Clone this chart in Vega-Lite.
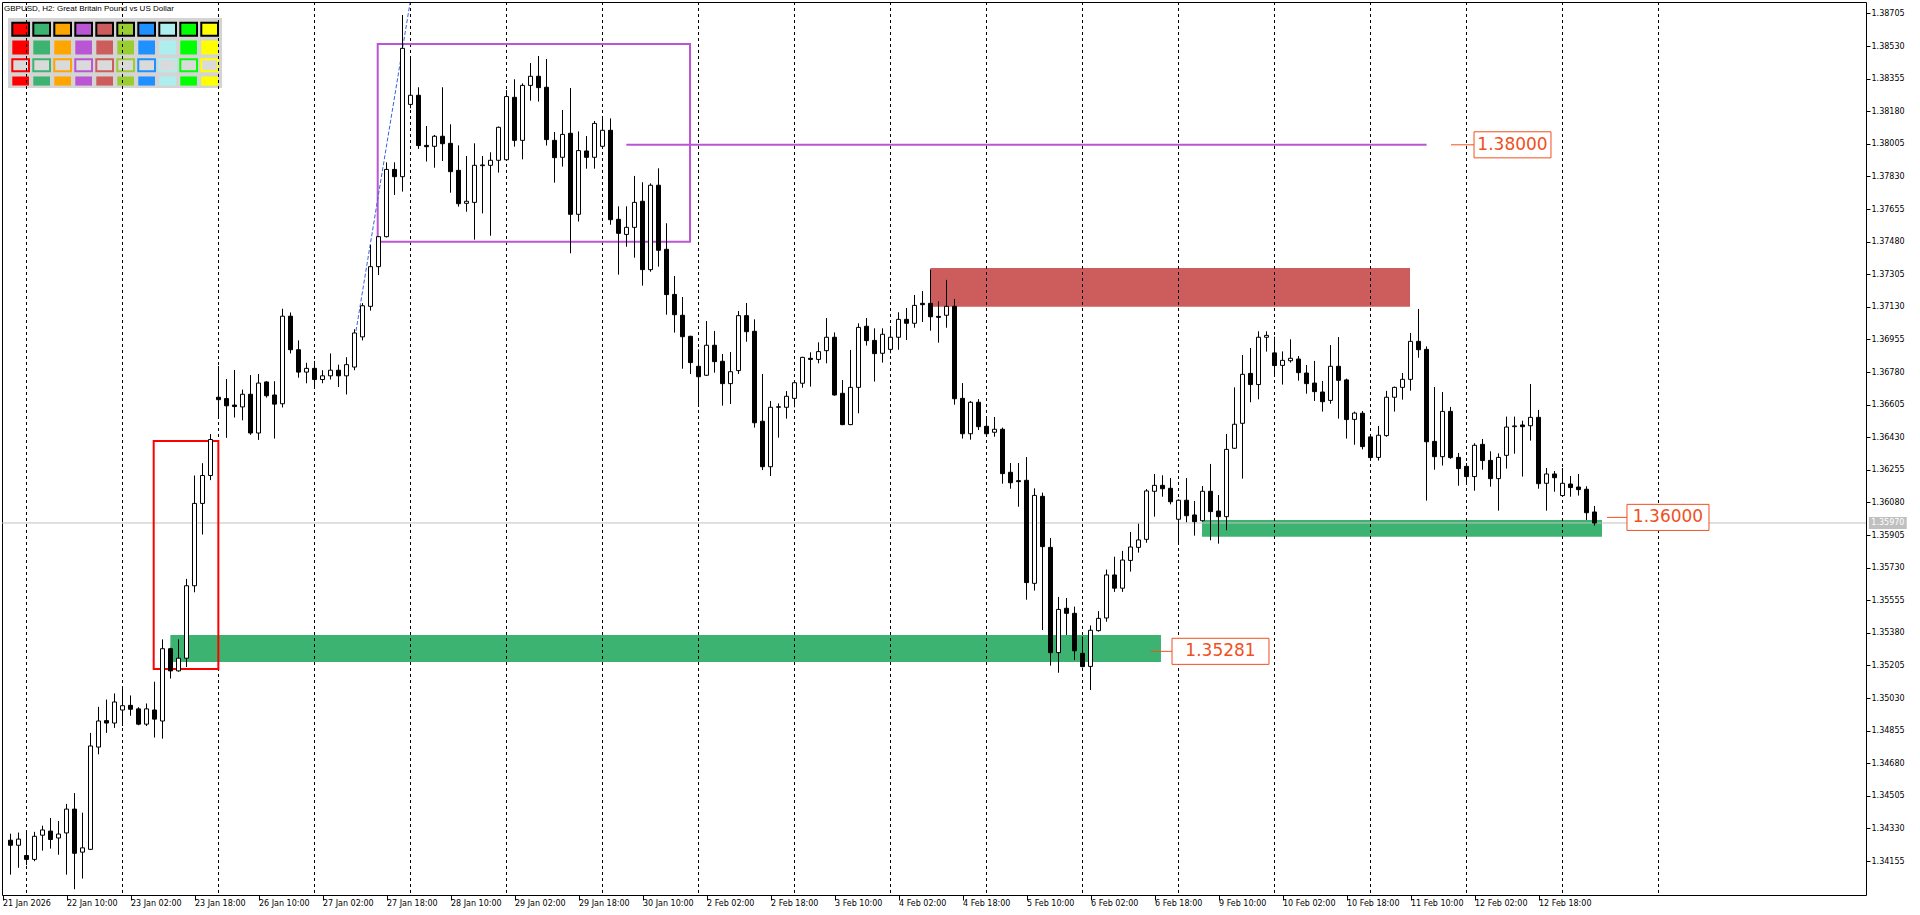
{
"$schema": "https://vega.github.io/schema/vega-lite/v6.json",
"width": 1864, "height": 893,
"autosize": "none",
"padding": {"left": 2, "top": 2, "right": 54, "bottom": 20},
"background": "white",
"config": {"view": {"stroke": "black", "strokeWidth": 1}},
"resolve": {"scale": {"fill": "independent", "stroke": "independent", "color": "independent"}, "axis": {"x": "independent", "y": "independent"}},
"datasets": {
"bars": [
{"i":0,"o":1.34267,"h":1.34302,"l":1.34082,"c":1.34240},
{"i":1,"o":1.34240,"h":1.34308,"l":1.34119,"c":1.34273},
{"i":2,"o":1.34185,"h":1.34318,"l":1.34133,"c":1.34164},
{"i":3,"o":1.34164,"h":1.34312,"l":1.34154,"c":1.34288},
{"i":4,"o":1.34294,"h":1.34345,"l":1.34211,"c":1.34322},
{"i":5,"o":1.34316,"h":1.34386,"l":1.34222,"c":1.34271},
{"i":6,"o":1.34279,"h":1.34370,"l":1.34189,"c":1.34300},
{"i":7,"o":1.34306,"h":1.34462,"l":1.34082,"c":1.34434},
{"i":8,"o":1.34434,"h":1.34520,"l":1.34004,"c":1.34197},
{"i":9,"o":1.34203,"h":1.34415,"l":1.34061,"c":1.34226},
{"i":10,"o":1.34218,"h":1.34843,"l":1.34214,"c":1.34773},
{"i":11,"o":1.34767,"h":1.34983,"l":1.34728,"c":1.34907},
{"i":12,"o":1.34909,"h":1.35022,"l":1.34843,"c":1.34896},
{"i":13,"o":1.34896,"h":1.35055,"l":1.34870,"c":1.35009},
{"i":14,"o":1.34966,"h":1.35090,"l":1.34880,"c":1.34989},
{"i":15,"o":1.34991,"h":1.35044,"l":1.34935,"c":1.34970},
{"i":16,"o":1.34972,"h":1.34981,"l":1.34884,"c":1.34890},
{"i":17,"o":1.34890,"h":1.35001,"l":1.34880,"c":1.34972},
{"i":18,"o":1.34966,"h":1.35118,"l":1.34818,"c":1.34917},
{"i":19,"o":1.34907,"h":1.35345,"l":1.34812,"c":1.35295},
{"i":20,"o":1.35295,"h":1.35300,"l":1.35135,"c":1.35176},
{"i":21,"o":1.35176,"h":1.35345,"l":1.35172,"c":1.35244},
{"i":22,"o":1.35244,"h":1.35670,"l":1.35197,"c":1.35633},
{"i":23,"o":1.35633,"h":1.36225,"l":1.35598,"c":1.36075},
{"i":24,"o":1.36075,"h":1.36291,"l":1.35908,"c":1.36225},
{"i":25,"o":1.36225,"h":1.36447,"l":1.36200,"c":1.36418},
{"i":26,"o":1.36645,"h":1.36813,"l":1.36529,"c":1.36632},
{"i":27,"o":1.36638,"h":1.36743,"l":1.36427,"c":1.36599},
{"i":28,"o":1.36603,"h":1.36791,"l":1.36536,"c":1.36595},
{"i":29,"o":1.36593,"h":1.36686,"l":1.36521,"c":1.36661},
{"i":30,"o":1.36661,"h":1.36764,"l":1.36443,"c":1.36453},
{"i":31,"o":1.36453,"h":1.36770,"l":1.36416,"c":1.36721},
{"i":32,"o":1.36727,"h":1.36731,"l":1.36643,"c":1.36653},
{"i":33,"o":1.36657,"h":1.36731,"l":1.36423,"c":1.36608},
{"i":34,"o":1.36610,"h":1.37120,"l":1.36590,"c":1.37080},
{"i":35,"o":1.37080,"h":1.37100,"l":1.36880,"c":1.36900},
{"i":36,"o":1.36900,"h":1.36950,"l":1.36750,"c":1.36780},
{"i":37,"o":1.36780,"h":1.36830,"l":1.36720,"c":1.36800},
{"i":38,"o":1.36800,"h":1.36840,"l":1.36700,"c":1.36740},
{"i":39,"o":1.36740,"h":1.36790,"l":1.36720,"c":1.36760},
{"i":40,"o":1.36760,"h":1.36880,"l":1.36740,"c":1.36790},
{"i":41,"o":1.36790,"h":1.36820,"l":1.36700,"c":1.36760},
{"i":42,"o":1.36760,"h":1.36860,"l":1.36660,"c":1.36820},
{"i":43,"o":1.36807,"h":1.37010,"l":1.36790,"c":1.36990},
{"i":44,"o":1.36969,"h":1.37150,"l":1.36950,"c":1.37136},
{"i":45,"o":1.37133,"h":1.37462,"l":1.37110,"c":1.37346},
{"i":46,"o":1.37346,"h":1.37510,"l":1.37301,"c":1.37507},
{"i":47,"o":1.37507,"h":1.37906,"l":1.37503,"c":1.37868},
{"i":48,"o":1.37868,"h":1.37906,"l":1.37731,"c":1.37829},
{"i":49,"o":1.37829,"h":1.38697,"l":1.37749,"c":1.38518},
{"i":50,"o":1.38217,"h":1.38477,"l":1.38196,"c":1.38266},
{"i":51,"o":1.38266,"h":1.38309,"l":1.37978,"c":1.37996},
{"i":52,"o":1.37997,"h":1.38101,"l":1.37910,"c":1.37990},
{"i":53,"o":1.37992,"h":1.38053,"l":1.37877,"c":1.38046},
{"i":54,"o":1.38046,"h":1.38309,"l":1.37913,"c":1.38006},
{"i":55,"o":1.38008,"h":1.38110,"l":1.37743,"c":1.37856},
{"i":56,"o":1.37863,"h":1.37997,"l":1.37668,"c":1.37684},
{"i":57,"o":1.37686,"h":1.37940,"l":1.37641,"c":1.37697},
{"i":58,"o":1.37691,"h":1.38008,"l":1.37491,"c":1.37890},
{"i":59,"o":1.37888,"h":1.37940,"l":1.37632,"c":1.37892},
{"i":60,"o":1.37890,"h":1.37960,"l":1.37512,"c":1.37917},
{"i":61,"o":1.37917,"h":1.38098,"l":1.37851,"c":1.38094},
{"i":62,"o":1.37920,"h":1.38294,"l":1.37917,"c":1.38259},
{"i":63,"o":1.38255,"h":1.38352,"l":1.37990,"c":1.38024},
{"i":64,"o":1.38024,"h":1.38330,"l":1.37922,"c":1.38319},
{"i":65,"o":1.38319,"h":1.38439,"l":1.38237,"c":1.38368},
{"i":66,"o":1.38368,"h":1.38477,"l":1.38232,"c":1.38307},
{"i":67,"o":1.38309,"h":1.38461,"l":1.37996,"c":1.38028},
{"i":68,"o":1.38024,"h":1.38069,"l":1.37797,"c":1.37931},
{"i":69,"o":1.37933,"h":1.38187,"l":1.37883,"c":1.38056},
{"i":70,"o":1.38062,"h":1.38305,"l":1.37418,"c":1.37627},
{"i":71,"o":1.37627,"h":1.38072,"l":1.37588,"c":1.37969},
{"i":72,"o":1.37967,"h":1.38047,"l":1.37872,"c":1.37933},
{"i":73,"o":1.37933,"h":1.38128,"l":1.37872,"c":1.38115},
{"i":74,"o":1.37992,"h":1.38155,"l":1.37978,"c":1.38078},
{"i":75,"o":1.38078,"h":1.38142,"l":1.37571,"c":1.37598},
{"i":76,"o":1.37600,"h":1.37670,"l":1.37303,"c":1.37525},
{"i":77,"o":1.37519,"h":1.37670,"l":1.37453,"c":1.37557},
{"i":78,"o":1.37557,"h":1.37833,"l":1.37394,"c":1.37691},
{"i":79,"o":1.37697,"h":1.37799,"l":1.37244,"c":1.37330},
{"i":80,"o":1.37330,"h":1.37793,"l":1.37319,"c":1.37783},
{"i":81,"o":1.37783,"h":1.37874,"l":1.37346,"c":1.37434},
{"i":82,"o":1.37439,"h":1.37579,"l":1.37088,"c":1.37196},
{"i":83,"o":1.37197,"h":1.37296,"l":1.36992,"c":1.37088},
{"i":84,"o":1.37085,"h":1.37183,"l":1.36798,"c":1.36970},
{"i":85,"o":1.36972,"h":1.36975,"l":1.36770,"c":1.36831},
{"i":86,"o":1.36811,"h":1.36902,"l":1.36594,"c":1.36755},
{"i":87,"o":1.36763,"h":1.37054,"l":1.36759,"c":1.36924},
{"i":88,"o":1.36924,"h":1.37001,"l":1.36777,"c":1.36836},
{"i":89,"o":1.36838,"h":1.36877,"l":1.36600,"c":1.36718},
{"i":90,"o":1.36718,"h":1.36888,"l":1.36609,"c":1.36782},
{"i":91,"o":1.36788,"h":1.37108,"l":1.36770,"c":1.37083},
{"i":92,"o":1.37083,"h":1.37151,"l":1.36943,"c":1.36997},
{"i":93,"o":1.36999,"h":1.37063,"l":1.36482,"c":1.36508},
{"i":94,"o":1.36516,"h":1.36770,"l":1.36254,"c":1.36272},
{"i":95,"o":1.36272,"h":1.36625,"l":1.36222,"c":1.36591},
{"i":96,"o":1.36591,"h":1.36612,"l":1.36428,"c":1.36594},
{"i":97,"o":1.36591,"h":1.36678,"l":1.36530,"c":1.36650},
{"i":98,"o":1.36639,"h":1.36728,"l":1.36591,"c":1.36723},
{"i":99,"o":1.36720,"h":1.36862,"l":1.36696,"c":1.36859},
{"i":100,"o":1.36854,"h":1.36886,"l":1.36702,"c":1.36848},
{"i":101,"o":1.36848,"h":1.36940,"l":1.36827,"c":1.36890},
{"i":102,"o":1.36895,"h":1.37070,"l":1.36827,"c":1.36967},
{"i":103,"o":1.36967,"h":1.36993,"l":1.36653,"c":1.36657},
{"i":104,"o":1.36666,"h":1.36737,"l":1.36495,"c":1.36498},
{"i":105,"o":1.36498,"h":1.36899,"l":1.36495,"c":1.36698},
{"i":106,"o":1.36698,"h":1.37042,"l":1.36559,"c":1.37020},
{"i":107,"o":1.37026,"h":1.37070,"l":1.36922,"c":1.36949},
{"i":108,"o":1.36950,"h":1.37015,"l":1.36729,"c":1.36879},
{"i":109,"o":1.36881,"h":1.37015,"l":1.36831,"c":1.36983},
{"i":110,"o":1.36902,"h":1.37024,"l":1.36881,"c":1.36967},
{"i":111,"o":1.36967,"h":1.37101,"l":1.36900,"c":1.37063},
{"i":112,"o":1.37063,"h":1.37124,"l":1.36952,"c":1.37042},
{"i":113,"o":1.37042,"h":1.37194,"l":1.37018,"c":1.37138},
{"i":114,"o":1.37149,"h":1.37215,"l":1.37049,"c":1.37142},
{"i":115,"o":1.37149,"h":1.37330,"l":1.37002,"c":1.37077},
{"i":116,"o":1.37079,"h":1.37160,"l":1.36938,"c":1.37074},
{"i":117,"o":1.37085,"h":1.37275,"l":1.37018,"c":1.37133},
{"i":118,"o":1.37133,"h":1.37172,"l":1.36605,"c":1.36637},
{"i":119,"o":1.36639,"h":1.36721,"l":1.36423,"c":1.36449},
{"i":120,"o":1.36449,"h":1.36625,"l":1.36417,"c":1.36618},
{"i":121,"o":1.36618,"h":1.36635,"l":1.36469,"c":1.36487},
{"i":122,"o":1.36489,"h":1.36542,"l":1.36445,"c":1.36449},
{"i":123,"o":1.36457,"h":1.36539,"l":1.36433,"c":1.36473},
{"i":124,"o":1.36473,"h":1.36482,"l":1.36181,"c":1.36235},
{"i":125,"o":1.36242,"h":1.36292,"l":1.36154,"c":1.36186},
{"i":126,"o":1.36197,"h":1.36292,"l":1.36057,"c":1.36192},
{"i":127,"o":1.36199,"h":1.36324,"l":1.35558,"c":1.35650},
{"i":128,"o":1.35646,"h":1.36156,"l":1.35607,"c":1.36118},
{"i":129,"o":1.36113,"h":1.36133,"l":1.35395,"c":1.35843},
{"i":130,"o":1.35839,"h":1.35889,"l":1.35204,"c":1.35274},
{"i":131,"o":1.35274,"h":1.35573,"l":1.35166,"c":1.35506},
{"i":132,"o":1.35512,"h":1.35567,"l":1.35369,"c":1.35485},
{"i":133,"o":1.35485,"h":1.35521,"l":1.35234,"c":1.35284},
{"i":134,"o":1.35270,"h":1.35360,"l":1.35195,"c":1.35199},
{"i":135,"o":1.35200,"h":1.35420,"l":1.35073,"c":1.35394},
{"i":136,"o":1.35392,"h":1.35497,"l":1.35387,"c":1.35458},
{"i":137,"o":1.35460,"h":1.35720,"l":1.35440,"c":1.35691},
{"i":138,"o":1.35691,"h":1.35789,"l":1.35600,"c":1.35620},
{"i":139,"o":1.35620,"h":1.35820,"l":1.35600,"c":1.35771},
{"i":140,"o":1.35769,"h":1.35922,"l":1.35709,"c":1.35841},
{"i":141,"o":1.35839,"h":1.35966,"l":1.35811,"c":1.35879},
{"i":142,"o":1.35882,"h":1.36152,"l":1.35864,"c":1.36142},
{"i":143,"o":1.36140,"h":1.36233,"l":1.36004,"c":1.36172},
{"i":144,"o":1.36172,"h":1.36226,"l":1.36111,"c":1.36154},
{"i":145,"o":1.36156,"h":1.36211,"l":1.36070,"c":1.36084},
{"i":146,"o":1.35990,"h":1.36096,"l":1.35855,"c":1.36092},
{"i":147,"o":1.36092,"h":1.36211,"l":1.35974,"c":1.36009},
{"i":148,"o":1.36013,"h":1.36088,"l":1.35902,"c":1.35977},
{"i":149,"o":1.35982,"h":1.36168,"l":1.35977,"c":1.36140},
{"i":150,"o":1.36140,"h":1.36287,"l":1.35877,"c":1.36031},
{"i":151,"o":1.36034,"h":1.36120,"l":1.35859,"c":1.36004},
{"i":152,"o":1.36004,"h":1.36448,"l":1.35931,"c":1.36365},
{"i":153,"o":1.36371,"h":1.36698,"l":1.36368,"c":1.36500},
{"i":154,"o":1.36505,"h":1.36872,"l":1.36208,"c":1.36768},
{"i":155,"o":1.36773,"h":1.36909,"l":1.36618,"c":1.36713},
{"i":156,"o":1.36713,"h":1.36999,"l":1.36634,"c":1.36967},
{"i":157,"o":1.36967,"h":1.36999,"l":1.36890,"c":1.36977},
{"i":158,"o":1.36883,"h":1.36970,"l":1.36759,"c":1.36815},
{"i":159,"o":1.36816,"h":1.36891,"l":1.36713,"c":1.36843},
{"i":160,"o":1.36841,"h":1.36956,"l":1.36831,"c":1.36854},
{"i":161,"o":1.36850,"h":1.36866,"l":1.36734,"c":1.36777},
{"i":162,"o":1.36775,"h":1.36818,"l":1.36664,"c":1.36718},
{"i":163,"o":1.36721,"h":1.36840,"l":1.36625,"c":1.36675},
{"i":164,"o":1.36673,"h":1.36732,"l":1.36568,"c":1.36621},
{"i":165,"o":1.36628,"h":1.36925,"l":1.36610,"c":1.36811},
{"i":166,"o":1.36811,"h":1.36968,"l":1.36530,"c":1.36736},
{"i":167,"o":1.36738,"h":1.36745,"l":1.36423,"c":1.36525},
{"i":168,"o":1.36526,"h":1.36568,"l":1.36390,"c":1.36560},
{"i":169,"o":1.36559,"h":1.36571,"l":1.36365,"c":1.36380},
{"i":170,"o":1.36432,"h":1.36448,"l":1.36305,"c":1.36321},
{"i":171,"o":1.36322,"h":1.36491,"l":1.36305,"c":1.36441},
{"i":172,"o":1.36439,"h":1.36679,"l":1.36433,"c":1.36645},
{"i":173,"o":1.36645,"h":1.36702,"l":1.36568,"c":1.36698},
{"i":174,"o":1.36698,"h":1.36775,"l":1.36632,"c":1.36741},
{"i":175,"o":1.36741,"h":1.36990,"l":1.36680,"c":1.36945},
{"i":176,"o":1.36945,"h":1.37119,"l":1.36857,"c":1.36900},
{"i":177,"o":1.36902,"h":1.36918,"l":1.36090,"c":1.36406},
{"i":178,"o":1.36408,"h":1.36700,"l":1.36256,"c":1.36326},
{"i":179,"o":1.36326,"h":1.36673,"l":1.36278,"c":1.36569},
{"i":180,"o":1.36569,"h":1.36593,"l":1.36314,"c":1.36321},
{"i":181,"o":1.36322,"h":1.36346,"l":1.36170,"c":1.36262},
{"i":182,"o":1.36274,"h":1.36292,"l":1.36174,"c":1.36219},
{"i":183,"o":1.36219,"h":1.36398,"l":1.36143,"c":1.36387},
{"i":184,"o":1.36392,"h":1.36421,"l":1.36256,"c":1.36305},
{"i":185,"o":1.36306,"h":1.36355,"l":1.36165,"c":1.36208},
{"i":186,"o":1.36208,"h":1.36344,"l":1.36036,"c":1.36322},
{"i":187,"o":1.36333,"h":1.36541,"l":1.36262,"c":1.36485},
{"i":188,"o":1.36487,"h":1.36541,"l":1.36342,"c":1.36491},
{"i":189,"o":1.36496,"h":1.36519,"l":1.36219,"c":1.36487},
{"i":190,"o":1.36492,"h":1.36716,"l":1.36412,"c":1.36537},
{"i":191,"o":1.36537,"h":1.36577,"l":1.36154,"c":1.36181},
{"i":192,"o":1.36183,"h":1.36265,"l":1.36036,"c":1.36233},
{"i":193,"o":1.36233,"h":1.36249,"l":1.36138,"c":1.36213},
{"i":194,"o":1.36117,"h":1.36265,"l":1.36111,"c":1.36183},
{"i":195,"o":1.36179,"h":1.36222,"l":1.36111,"c":1.36160},
{"i":196,"o":1.36163,"h":1.36233,"l":1.36117,"c":1.36149},
{"i":197,"o":1.36151,"h":1.36167,"l":1.35986,"c":1.36025},
{"i":198,"o":1.36029,"h":1.36061,"l":1.35956,"c":1.35970}
],
"grid": [{"g":2},{"g":14},{"g":26},{"g":38},{"g":50},{"g":62},{"g":74},{"g":86},{"g":98},{"g":110},{"g":122},{"g":134},{"g":146},{"g":158},{"g":170},{"g":182},{"g":194},{"g":206}],
"zones": [
{"kind":"demand","x0":19.98,"x1":143.81,"y0":1.35224,"y1":1.35369},
{"kind":"demand","x0":148.94,"x1":198.94,"y0":1.35896,"y1":1.35986},
{"kind":"supply","x0":114.98,"x1":174.94,"y0":1.37131,"y1":1.37339}
],
"boxes": [
{"kind":"impulse","x0":17.9,"x1":25.98,"y0":1.35186,"y1":1.36410},
{"kind":"range","x0":45.9,"x1":84.94,"y0":1.37480,"y1":1.38541}
],
"level": [{"x0":76.98,"x1":177.01,"p":1.38000}],
"trend": [{"x":43.19,"p":1.37001},{"x":49.94,"p":1.38761}],
"tags": [
{"t":"1.38000","p":1.38000,"lx0":180.06,"lx1":182.94,"bx0":182.94,"bx1":192.56,"by0":1.37930,"by1":1.38070,"tx":187.75},
{"t":"1.36000","p":1.36000,"lx0":199.56,"lx1":202.06,"bx0":202.06,"bx1":212.31,"by0":1.35930,"by1":1.36070,"tx":207.19},
{"t":"1.35281","p":1.35281,"lx0":142.56,"lx1":145.19,"bx0":145.19,"bx1":157.31,"by0":1.35211,"by1":1.35351,"tx":151.25}
],
"last": [{"t":"1.35970","p":1.35970,"x0":232.3,"x1":237.03,"y0":1.35938,"y1":1.36002,"tx":234.67}],
"panel": [{"x0":-0.3125,"x1":26.44,"y0":1.38305,"y1":1.38681}],
"title": [{"t":"GBPUSD, H2:  Great Britain Pound vs US Dollar","x":-0.8125,"p":1.38729}],
"sw": [
{"col":"red","x0":0.225,"x1":2.3125},
{"col":"mediumseagreen","x0":2.85,"x1":4.9375},
{"col":"orange","x0":5.475,"x1":7.5625},
{"col":"mediumorchid","x0":8.1,"x1":10.1875},
{"col":"indianred","x0":10.725,"x1":12.8125},
{"col":"yellowgreen","x0":13.35,"x1":15.4375},
{"col":"dodgerblue","x0":15.975,"x1":18.0625},
{"col":"paleturquoise","x0":18.6,"x1":20.6875},
{"col":"lime","x0":21.225,"x1":23.3125},
{"col":"yellow","x0":23.85,"x1":25.9375}
]
},
"layer": [
{
"data": {"name": "panel"},
"mark": {"type": "rect", "color": "#D4D4D4"},
"encoding": {
"x": {"field": "x0", "type": "quantitative", "axis": null, "title": null, "scale": {"domain": [-1.0625, 231.9375], "nice": false, "zero": false, "padding": 0}},
"x2": {"field": "x1"},
"y": {"field": "y0", "type": "quantitative", "axis": null, "title": null, "scale": {"domain": [1.339729, 1.387667], "nice": false, "zero": false, "padding": 0}},
"y2": {"field": "y1"}
}
},
{
"data": {"name": "sw"},
"mark": {"type": "rect", "stroke": "black", "strokeWidth": 2},
"encoding": {
"x": {"field": "x0", "type": "quantitative", "axis": null, "title": null},
"x2": {"field": "x1"},
"y": {"datum": 1.38585, "type": "quantitative", "axis": null},
"y2": {"datum": 1.38655},
"fill": {"field": "col", "type": "nominal", "legend": null, "scale": {"domain": ["red","mediumseagreen","orange","mediumorchid","indianred","yellowgreen","dodgerblue","paleturquoise","lime","yellow"], "range": ["#FF0000","#3CB371","#FFA500","#BA55D3","#CD5C5C","#9ACD32","#1E90FF","#AFEEEE","#00FF00","#FFFF00"]}}
}
},
{
"data": {"name": "sw"},
"mark": {"type": "rect"},
"encoding": {
"x": {"field": "x0", "type": "quantitative", "axis": null, "title": null},
"x2": {"field": "x1"},
"y": {"datum": 1.38485, "type": "quantitative", "axis": null},
"y2": {"datum": 1.38560},
"fill": {"field": "col", "type": "nominal", "legend": null, "scale": {"domain": ["red","mediumseagreen","orange","mediumorchid","indianred","yellowgreen","dodgerblue","paleturquoise","lime","yellow"], "range": ["#FF0000","#3CB371","#FFA500","#BA55D3","#CD5C5C","#9ACD32","#1E90FF","#AFEEEE","#00FF00","#FFFF00"]}}
}
},
{
"data": {"name": "sw"},
"mark": {"type": "rect", "fill": "#DADADA", "strokeWidth": 2},
"encoding": {
"x": {"field": "x0", "type": "quantitative", "axis": null, "title": null},
"x2": {"field": "x1"},
"y": {"datum": 1.38395, "type": "quantitative", "axis": null},
"y2": {"datum": 1.38460},
"stroke": {"field": "col", "type": "nominal", "legend": null, "scale": {"domain": ["red","mediumseagreen","orange","mediumorchid","indianred","yellowgreen","dodgerblue","paleturquoise","lime","yellow"], "range": ["#FF0000","#3CB371","#FFA500","#BA55D3","#CD5C5C","#9ACD32","#1E90FF","#AFEEEE","#00FF00","#FFFF00"]}}
}
},
{
"data": {"name": "sw"},
"mark": {"type": "rect"},
"encoding": {
"x": {"field": "x0", "type": "quantitative", "axis": null, "title": null},
"x2": {"field": "x1"},
"y": {"datum": 1.38318, "type": "quantitative", "axis": null},
"y2": {"datum": 1.38367},
"color": {"field": "col", "type": "nominal", "legend": null, "scale": {"domain": ["red","mediumseagreen","orange","mediumorchid","indianred","yellowgreen","dodgerblue","paleturquoise","lime","yellow"], "range": ["#FF0000","#3CB371","#FFA500","#BA55D3","#CD5C5C","#9ACD32","#1E90FF","#AFEEEE","#00FF00","#FFFF00"]}}
}
},
{
"data": {"name": "title"},
"mark": {"type": "text", "align": "left", "baseline": "middle", "font": "Liberation Sans", "fontSize": 8, "color": "black"},
"encoding": {
"x": {"field": "x", "type": "quantitative", "axis": null, "title": null},
"y": {"field": "p", "type": "quantitative", "axis": null, "title": null},
"text": {"field": "t"}
}
},
{
"data": {"name": "zones"},
"mark": {"type": "rect"},
"encoding": {
"x": {"field": "x0", "type": "quantitative", "axis": null, "title": null},
"x2": {"field": "x1"},
"y": {"field": "y0", "type": "quantitative", "axis": null, "title": null},
"y2": {"field": "y1"},
"fill": {"field": "kind", "type": "nominal", "legend": null, "scale": {"domain": ["demand","supply"], "range": ["#3CB371","#CD5C5C"]}}
}
},
{
"data": {"name": "grid"},
"mark": {"type": "rule", "color": "black", "strokeWidth": 1, "strokeDash": [3, 3]},
"encoding": {
"x": {"field": "g", "type": "quantitative", "axis": null, "title": null}
}
},
{
"data": {"name": "last"},
"mark": {"type": "rule", "color": "#C0C0C0", "strokeWidth": 1},
"encoding": {
"y": {"field": "p", "type": "quantitative", "axis": null, "title": null}
}
},
{
"data": {"name": "boxes"},
"mark": {"type": "rect", "filled": false, "strokeWidth": 2},
"encoding": {
"x": {"field": "x0", "type": "quantitative", "axis": null, "title": null},
"x2": {"field": "x1"},
"y": {"field": "y0", "type": "quantitative", "axis": null, "title": null},
"y2": {"field": "y1"},
"stroke": {"field": "kind", "type": "nominal", "legend": null, "scale": {"domain": ["impulse","range"], "range": ["#FF0000","#BA55D3"]}}
}
},
{
"data": {"name": "level"},
"mark": {"type": "rule", "color": "#BA55D3", "strokeWidth": 2},
"encoding": {
"x": {"field": "x0", "type": "quantitative", "axis": null, "title": null},
"x2": {"field": "x1"},
"y": {"field": "p", "type": "quantitative", "axis": null, "title": null}
}
},
{
"data": {"name": "trend"},
"mark": {"type": "line", "color": "#3A62E0", "strokeWidth": 1, "strokeDash": [4, 2]},
"encoding": {
"x": {"field": "x", "type": "quantitative", "axis": null, "title": null},
"y": {"field": "p", "type": "quantitative", "axis": null, "title": null}
}
},
{
"data": {"name": "bars"},
"mark": {"type": "rule", "color": "black", "strokeWidth": 1},
"encoding": {
"x": {"field": "i", "type": "quantitative", "title": null,
 "axis": {"orient": "bottom", "values": [-1,7,15,23,31,39,47,55,63,71,79,87,95,103,111,119,127,135,143,151,159,167,175,183,191],
  "labelExpr": "['21 Jan 2026','22 Jan 10:00','23 Jan 02:00','23 Jan 18:00','26 Jan 10:00','27 Jan 02:00','27 Jan 18:00','28 Jan 10:00','29 Jan 02:00','29 Jan 18:00','30 Jan 10:00','2 Feb 02:00','2 Feb 18:00','3 Feb 10:00','4 Feb 02:00','4 Feb 18:00','5 Feb 10:00','6 Feb 02:00','6 Feb 18:00','9 Feb 10:00','10 Feb 02:00','10 Feb 18:00','11 Feb 10:00','12 Feb 02:00','12 Feb 18:00'][round((datum.value+1)/8)]",
  "labelAlign": "left", "labelBaseline": "top", "labelPadding": -1, "labelDx": 2, "labelFont": "DejaVu Sans", "labelFontSize": 8, "labelColor": "black",
  "labelFlush": false, "labelOverlap": false, "labelBound": false,
  "tickSize": 5, "tickColor": "black", "tickWidth": 1, "domain": false, "grid": false}},
"y": {"field": "l", "type": "quantitative", "title": null,
 "axis": {"orient": "right", "values": [1.38705,1.38530,1.38355,1.38180,1.38005,1.37830,1.37655,1.37480,1.37305,1.37130,1.36955,1.36780,1.36605,1.36430,1.36255,1.36080,1.35905,1.35730,1.35555,1.35380,1.35205,1.35030,1.34855,1.34680,1.34505,1.34330,1.34155],
  "format": ".5f", "labelFont": "DejaVu Sans", "labelFontSize": 8, "labelColor": "black", "labelPadding": 1,
  "tickSize": 4, "tickColor": "black", "domain": false, "grid": false, "labelOverlap": false, "labelFlush": false}},
"y2": {"field": "h"}
}
},
{
"data": {"name": "bars"},
"mark": {"type": "bar", "width": 4, "stroke": "black", "strokeWidth": 1},
"encoding": {
"x": {"field": "i", "type": "quantitative", "axis": null, "title": null},
"y": {"field": "o", "type": "quantitative", "axis": null, "title": null},
"y2": {"field": "c"},
"fill": {"condition": {"test": "datum.c >= datum.o", "value": "white"}, "value": "black"}
}
},
{
"data": {"name": "tags"},
"mark": {"type": "rule", "color": "#F0501E", "strokeWidth": 1},
"encoding": {
"x": {"field": "lx0", "type": "quantitative", "axis": null, "title": null},
"x2": {"field": "lx1"},
"y": {"field": "p", "type": "quantitative", "axis": null, "title": null}
}
},
{
"data": {"name": "tags"},
"mark": {"type": "rect", "fill": "white", "stroke": "#F0501E", "strokeWidth": 1},
"encoding": {
"x": {"field": "bx0", "type": "quantitative", "axis": null, "title": null},
"x2": {"field": "bx1"},
"y": {"field": "by0", "type": "quantitative", "axis": null, "title": null},
"y2": {"field": "by1"}
}
},
{
"data": {"name": "tags"},
"mark": {"type": "text", "align": "center", "baseline": "middle", "font": "DejaVu Sans", "fontSize": 17, "color": "#F0501E"},
"encoding": {
"x": {"field": "tx", "type": "quantitative", "axis": null, "title": null},
"y": {"field": "p", "type": "quantitative", "axis": null, "title": null},
"text": {"field": "t"}
}
},
{
"data": {"name": "last"},
"mark": {"type": "rect", "color": "#C0C0C0"},
"encoding": {
"x": {"field": "x0", "type": "quantitative", "axis": null, "title": null},
"x2": {"field": "x1"},
"y": {"field": "y0", "type": "quantitative", "axis": null, "title": null},
"y2": {"field": "y1"}
}
},
{
"data": {"name": "last"},
"mark": {"type": "text", "align": "center", "baseline": "middle", "font": "DejaVu Sans", "fontSize": 8, "color": "white"},
"encoding": {
"x": {"field": "tx", "type": "quantitative", "axis": null, "title": null},
"y": {"field": "p", "type": "quantitative", "axis": null, "title": null},
"text": {"field": "t"}
}
}
]
}
